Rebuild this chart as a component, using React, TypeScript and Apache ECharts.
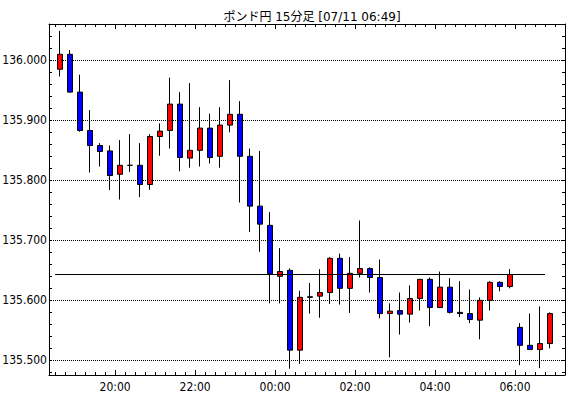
import React, { useEffect, useRef } from 'react';
import * as echarts from 'echarts';

const titleText = 'ポンド円 15分足 [07/11 06:49]';

const times = [
  '18:30', '18:45', '19:00', '19:15', '19:30', '19:45', '20:00', '20:15', '20:30', '20:45',
  '21:00', '21:15', '21:30', '21:45', '22:00', '22:15', '22:30', '22:45', '23:00', '23:15',
  '23:30', '23:45', '00:00', '00:15', '00:30', '00:45', '01:00', '01:15', '01:30', '01:45',
  '02:00', '02:15', '02:30', '02:45', '03:00', '03:15', '03:30', '03:45', '04:00', '04:15',
  '04:30', '04:45', '05:00', '05:15', '05:30', '05:45', '06:00', '06:15', '06:30', '06:45',
];

const opens = [
  135.985, 136.010, 135.947, 135.883, 135.858, 135.849, 135.810, 135.825, 135.825, 135.793,
  135.873, 135.883, 135.927, 135.837, 135.850, 135.887, 135.840, 135.892, 135.910, 135.840,
  135.757, 135.725, 135.640, 135.650, 135.517, 135.605, 135.607, 135.613, 135.670, 135.620,
  135.645, 135.653, 135.638, 135.578, 135.583, 135.577, 135.603, 135.635, 135.588, 135.622,
  135.580, 135.578, 135.567, 135.600, 135.630, 135.623, 135.555, 135.525, 135.518, 135.528,
];

const closes = [
  136.010, 135.947, 135.883, 135.858, 135.848, 135.808, 135.825, 135.825, 135.793, 135.873,
  135.882, 135.927, 135.838, 135.850, 135.887, 135.838, 135.892, 135.910, 135.840, 135.757,
  135.727, 135.644, 135.648, 135.517, 135.605, 135.606, 135.613, 135.670, 135.620, 135.645,
  135.653, 135.638, 135.578, 135.582, 135.577, 135.603, 135.635, 135.588, 135.622, 135.580,
  135.578, 135.568, 135.600, 135.630, 135.623, 135.643, 135.525, 135.518, 135.528, 135.578,
];

const lows = [
  135.973, 135.946, 135.881, 135.813, 135.823, 135.784, 135.768, 135.814, 135.772, 135.784,
  135.841, 135.853, 135.815, 135.821, 135.823, 135.828, 135.821, 135.880, 135.763, 135.714,
  135.681, 135.595, 135.595, 135.486, 135.494, 135.578, 135.571, 135.594, 135.593, 135.579,
  135.638, 135.613, 135.570, 135.505, 135.543, 135.563, 135.583, 135.557, 135.588, 135.578,
  135.572, 135.562, 135.535, 135.583, 135.615, 135.620, 135.492, 135.518, 135.487, 135.520,
];

const highs = [
  136.049, 136.017, 135.976, 135.917, 135.862, 135.858, 135.867, 135.877, 135.862, 135.877,
  135.895, 135.971, 135.947, 135.962, 135.922, 135.911, 135.922, 135.967, 135.932, 135.853,
  135.849, 135.747, 135.687, 135.653, 135.616, 135.629, 135.652, 135.672, 135.678, 135.672,
  135.733, 135.655, 135.668, 135.595, 135.613, 135.625, 135.635, 135.638, 135.648, 135.637,
  135.632, 135.618, 135.605, 135.632, 135.632, 135.652, 135.562, 135.578, 135.590, 135.580,
];

const xTickLabels = ['20:00', '22:00', '00:00', '02:00', '04:00', '06:00'];
const yTickLabels = [135.5, 135.6, 135.7, 135.8, 135.9, 136.0];
const refLevel = 135.643;
const refLineFrom = '18:30';
const refLineTo = '06:30';

export default function App() {
  const ref = useRef<HTMLDivElement>(null);

  useEffect(() => {
    if (!ref.current) return;
    const chart = echarts.init(ref.current, null, { renderer: 'svg' });

    const rows = times.map((_, i) => [i, opens[i], closes[i], lows[i], highs[i]]);
    const boundaries = times.map((_, i) => i - 0.5).concat([times.length - 0.5]);
    const majors = xTickLabels.map((t) => times.indexOf(t) - 0.5);
    const yMinor: number[] = [];
    for (let i = 0; i <= 28; i++) yMinor.push(+(135.48 + i * 0.02).toFixed(2));

    const labelFont = '"Liberation Sans Narrow", "DejaVu Sans Condensed", "Liberation Sans", sans-serif';
    const xMin = -1.11;
    const xMax = 50.5;
    const yMin = 135.4756;
    const yMax = 136.0605;

    const fmtX = (v: number) => times[Math.round(v + 0.5)] ?? '';

    const baseX = {
      type: 'value',
      min: xMin,
      max: xMax,
      splitLine: { show: false },
      axisLine: { show: true, onZero: false, lineStyle: { color: '#000', width: 1 } },
    };
    const baseY = {
      type: 'value',
      min: yMin,
      max: yMax,
      scale: true,
      splitLine: { show: false },
      axisLine: { show: true, onZero: false, lineStyle: { color: '#000', width: 1 } },
    };

    const option: any = {
      animation: false,
      backgroundColor: '#fff',
      title: {
        text: titleText,
        left: 307,
        top: 6,
        textAlign: 'center',
        textStyle: {
          fontFamily: '"DejaVu Sans", "Noto Sans CJK JP", sans-serif',
          fontSize: 12,
          fontWeight: 'normal',
          color: '#000',
        },
      },
      grid: { left: 49, right: 5, top: 24, bottom: 23, containLabel: false, outerBoundsMode: 'none' },
      xAxis: [
        {
          ...baseX,
          position: 'bottom',
          axisTick: { show: true, inside: true, length: 3, customValues: boundaries, lineStyle: { color: '#000' } },
          axisLabel: {
            show: true,
            customValues: majors,
            formatter: fmtX,
            margin: 6,
            color: '#000',
            fontSize: 12,
            fontFamily: labelFont,
          },
        },
        {
          ...baseX,
          position: 'bottom',
          axisLine: { show: false },
          axisTick: { show: true, inside: true, length: 5, customValues: majors, lineStyle: { color: '#000' } },
          axisLabel: { show: false },
        },
        {
          ...baseX,
          position: 'top',
          axisTick: { show: true, inside: true, length: 3, customValues: boundaries, lineStyle: { color: '#000' } },
          axisLabel: { show: false },
        },
        {
          ...baseX,
          position: 'top',
          axisLine: { show: false },
          axisTick: { show: true, inside: true, length: 5, customValues: majors, lineStyle: { color: '#000' } },
          axisLabel: { show: false },
        },
      ],
      yAxis: [
        {
          ...baseY,
          position: 'left',
          axisTick: { show: true, inside: true, length: 3, customValues: yMinor, lineStyle: { color: '#000' } },
          axisLabel: {
            show: true,
            customValues: yTickLabels,
            formatter: (v: number) => v.toFixed(3),
            margin: 2,
            color: '#000',
            fontSize: 12,
            fontFamily: labelFont,
          },
        },
        {
          ...baseY,
          position: 'right',
          axisTick: { show: true, inside: true, length: 3, customValues: yMinor, lineStyle: { color: '#000' } },
          axisLabel: { show: false },
        },
      ],
      series: [
        {
          type: 'candlestick',
          xAxisIndex: 0,
          yAxisIndex: 0,
          data: rows,
          encode: { x: 0, y: [1, 2, 3, 4] },
          barWidth: 6,
          itemStyle: {
            color: '#ff0000',
            color0: '#0000ff',
            borderColor: '#000',
            borderColor0: '#000',
            borderColorDoji: '#000',
            borderWidth: 1,
          },
          markLine: {
            silent: true,
            animation: false,
            symbol: ['none', 'none'],
            label: { show: false },
            emphasis: { disabled: true },
            data: [
              ...yTickLabels.map((v) => ({
                yAxis: v,
                lineStyle: { type: 'dotted', color: '#000', width: 1 },
              })),
              [
                {
                  coord: [times.indexOf(refLineFrom) - 0.5, refLevel],
                  lineStyle: { type: 'solid', color: '#000', width: 1 },
                },
                { coord: [times.indexOf(refLineTo) + 0.5, refLevel] },
              ],
            ],
          },
        },
      ],
    };

    chart.setOption(option);
    return () => chart.dispose();
  }, []);

  return (
    <div
      ref={ref}
      style={{ position: 'fixed', left: 0, top: 0, width: 570, height: 398, background: '#fff' }}
    />
  );
}
